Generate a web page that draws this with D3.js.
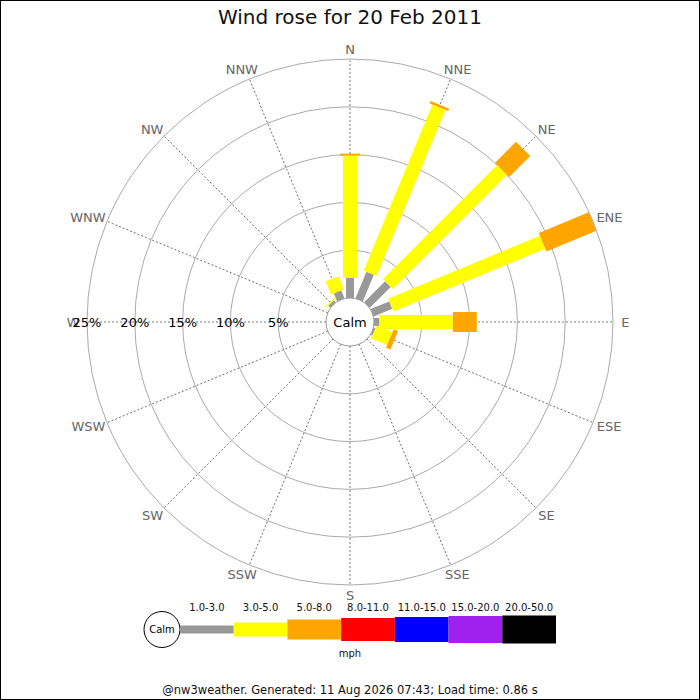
<!DOCTYPE html>
<html>
<head>
<meta charset="utf-8">
<script src="https://cdn.jsdelivr.net/npm/d3@7"></script>
<style>
  body { margin: 0; background: #fff; }
  svg { display: block; font-family: "DejaVu Sans", sans-serif; }
</style>
</head>
<body>
<div id="rose"></div>
<script>
// Directions round the compass, N first
var directions = ["N", "NNE", "NE", "ENE", "E", "ESE", "SE", "SSE",
  "S", "SSW", "SW", "WSW", "W", "WNW", "NW", "NNW"];

// Speed bands (mph)
var bands = ["1.0-3.0", "3.0-5.0", "5.0-8.0", "8.0-11.0", "11.0-15.0", "15.0-20.0", "20.0-50.0"];

// % of time per band, one value per direction
var band1to3   = [2.1, 3.0, 3.1, 2.1, 0.55, 0.2, 0, 0, 0, 0, 0, 0, 0, 0, 0.3, 0.9];
var band3to5   = [12.8, 18.8, 16.9, 17.2, 7.7, 1.8, 0, 0, 0, 0, 0, 0, 0, 0, 0.15, 1.47];
var band5to8   = [0.2, 0.27, 3.1, 5.65, 2.5, 0.5, 0, 0, 0, 0, 0, 0, 0, 0, 0, 0];
var band8to11  = [0, 0, 0, 0, 0, 0, 0, 0, 0, 0, 0, 0, 0, 0, 0, 0];
var band11to15 = [0, 0, 0, 0, 0, 0, 0, 0, 0, 0, 0, 0, 0, 0, 0, 0];
var band15to20 = [0, 0, 0, 0, 0, 0, 0, 0, 0, 0, 0, 0, 0, 0, 0, 0];
var band20to50 = [0, 0, 0, 0, 0, 0, 0, 0, 0, 0, 0, 0, 0, 0, 0, 0];

// ring tick labels
var ringTicks = [5, 10, 15, 20, 25];

var title = "Wind rose for 20 Feb 2011";
var footer = "@nw3weather. Generated: 11 Aug 2026 07:43; Load time: 0.86 s";

// styling for the bands
var bandColors = ["#999999", "#ffff00", "#ffa500", "#ff0000", "#0000ff", "#a020f0", "#000000"];
var bandWidths = [8, 14, 20, 23, 25, 27, 28];

var svgWidth = 700, svgHeight = 700;
var cx = 350, cy = 322;
var calmR = 24, outerR = 263, labelR = 273;

var svg = d3.select("#rose").append("svg")
  .attr("width", svgWidth)
  .attr("height", svgHeight);

svg.append("rect")
  .attr("x", 0.5).attr("y", 0.5)
  .attr("width", svgWidth - 1).attr("height", svgHeight - 1)
  .attr("fill", "#fff").attr("stroke", "#000");

svg.append("text")
  .attr("x", svgWidth / 2).attr("y", 24)
  .attr("text-anchor", "middle")
  .attr("font-size", 20)
  .attr("fill", "#111")
  .text(title);

var rScale = d3.scaleLinear().domain([0, 25]).range([calmR, outerR]);
var angle = d3.scalePoint().domain(directions).range([0, 360 - 22.5]);

var chart = svg.append("g").attr("transform", `translate(${cx}, ${cy})`);

// rings
chart.selectAll("circle.ring")
  .data(ringTicks)
  .enter().append("circle")
  .attr("class", "ring")
  .attr("r", d => rScale(d))
  .attr("fill", "none")
  .attr("stroke", "#aaa")
  .attr("stroke-width", 1);

// spokes
chart.selectAll("line.spoke")
  .data(directions)
  .enter().append("line")
  .attr("class", "spoke")
  .attr("transform", d => `rotate(${angle(d)})`)
  .attr("x1", 0).attr("y1", -calmR)
  .attr("x2", 0).attr("y2", -outerR)
  .attr("stroke", "#444")
  .attr("stroke-width", 0.7)
  .attr("stroke-dasharray", "2,2");

// stack the bands
var table = directions.map(function(dir, i) {
  return {
    dir: dir,
    b0: band1to3[i], b1: band3to5[i], b2: band5to8[i], b3: band8to11[i],
    b4: band11to15[i], b5: band15to20[i], b6: band20to50[i]
  };
});
var keys = ["b0", "b1", "b2", "b3", "b4", "b5", "b6"];
var series = d3.stack().keys(keys)(table);

var layers = chart.selectAll("g.layer")
  .data(series)
  .enter().append("g")
  .attr("class", "layer")
  .attr("fill", (d, i) => bandColors[i]);

layers.each(function(s, k) {
  d3.select(this).selectAll("rect")
    .data(s.filter(d => d[1] - d[0] > 0))
    .enter().append("rect")
    .attr("transform", d => `rotate(${angle(d.data.dir)})`)
    .attr("x", -bandWidths[k] / 2)
    .attr("width", bandWidths[k])
    .attr("y", d => -rScale(d[1]))
    .attr("height", d => rScale(d[1]) - rScale(d[0]));
});

// calm circle
chart.append("circle")
  .attr("r", calmR)
  .attr("fill", "#fff")
  .attr("stroke", "#999");

chart.append("text")
  .attr("y", 0).attr("dy", "0.35em")
  .attr("text-anchor", "middle")
  .attr("font-size", 13)
  .attr("fill", "#000")
  .text("Calm");

// compass labels, pushed out sideways by part of their width
chart.selectAll("text.compass")
  .data(directions)
  .enter().append("text")
  .attr("class", "compass")
  .attr("y", d => -labelR * Math.cos(angle(d) * Math.PI / 180))
  .attr("dy", "0.35em")
  .attr("text-anchor", "middle")
  .attr("font-size", 13)
  .attr("fill", "#666")
  .text(d => d)
  .attr("x", function(d) {
    var s = Math.sin(angle(d) * Math.PI / 180);
    var half = this.getComputedTextLength() / 2;
    return labelR * s + 0.6 * half * s;
  });

// percent labels along the W spoke
chart.selectAll("text.pct")
  .data(ringTicks)
  .enter().append("text")
  .attr("class", "pct")
  .attr("x", d => -rScale(d))
  .attr("y", 0).attr("dy", "0.35em")
  .attr("text-anchor", "middle")
  .attr("font-size", 13)
  .attr("fill", "#000")
  .text(d => d + "%");

// legend
var legendY = 629.5;
var legendX = d3.scaleBand().domain(bands).range([180, 556]);

svg.append("line")
  .attr("x1", 162).attr("x2", 180)
  .attr("y1", legendY).attr("y2", legendY)
  .attr("stroke", bandColors[0]).attr("stroke-width", bandWidths[0]);

svg.append("circle")
  .attr("cx", 162).attr("cy", legendY).attr("r", 18)
  .attr("fill", "#fff").attr("stroke", "#000");

svg.append("text")
  .attr("x", 162).attr("y", legendY).attr("dy", "0.35em")
  .attr("text-anchor", "middle")
  .attr("font-size", 10)
  .text("Calm");

svg.selectAll("rect.key")
  .data(bands)
  .enter().append("rect")
  .attr("class", "key")
  .attr("x", d => legendX(d))
  .attr("width", legendX.bandwidth())
  .attr("y", (d, i) => legendY - bandWidths[i] / 2)
  .attr("height", (d, i) => bandWidths[i])
  .attr("fill", (d, i) => bandColors[i]);

svg.selectAll("text.keylabel")
  .data(bands)
  .enter().append("text")
  .attr("class", "keylabel")
  .attr("x", d => legendX(d) + legendX.bandwidth() / 2)
  .attr("y", 611)
  .attr("text-anchor", "middle")
  .attr("font-size", 10)
  .attr("fill", "#111")
  .text(d => d);

svg.append("text")
  .attr("x", 350).attr("y", 657)
  .attr("text-anchor", "middle")
  .attr("font-size", 10)
  .attr("fill", "#111")
  .text("mph");

svg.append("text")
  .attr("x", 350).attr("y", 694)
  .attr("text-anchor", "middle")
  .attr("font-size", 11.5)
  .attr("fill", "#111")
  .text(footer);
</script>
</body>
</html>
